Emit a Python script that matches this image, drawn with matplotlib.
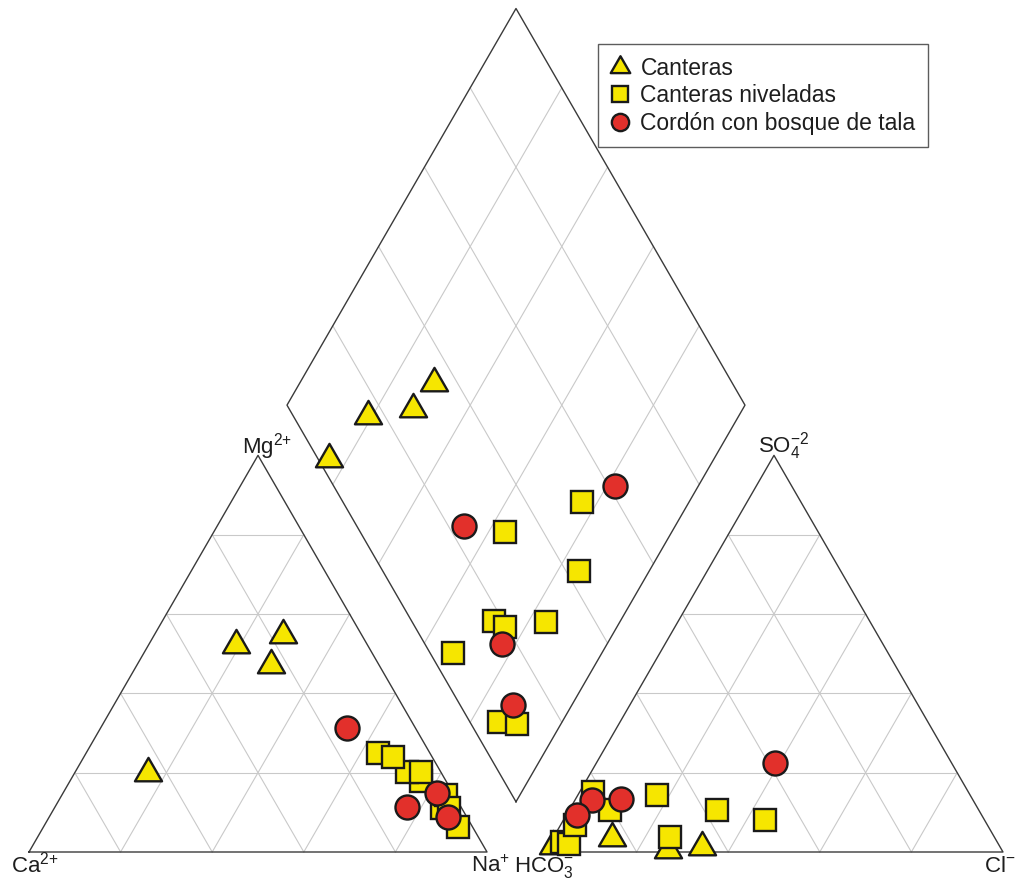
import numpy as np
import matplotlib
matplotlib.use("Agg")
import matplotlib.pyplot as plt
from matplotlib.path import Path

plt.rcParams['font.family'] = ['Liberation Sans', 'DejaVu Sans']
plt.rcParams['mathtext.fontset'] = 'custom'
plt.rcParams['mathtext.rm'] = 'Liberation Sans'
plt.rcParams['mathtext.it'] = 'Liberation Sans:italic'

# composiciones en % (cationes y aniones)
can_ca = [28.7, 17.2, 23.6, 64.1]
can_mg = [52.2, 54.7, 47.2, 19.9]
can_na = [19.1, 28.1, 29.2, 16.0]
can_hco3 = [83.6, 72.9, 65.1, 97.5]
can_so4 = [3.5, 0.5, 1.3, 1.5]
can_cl = [12.9, 26.6, 33.6, 1.0]

niv_ca = [5.5, 11.3, 4.3, 7.4, 4.3, 1.8, 8.5, 2.9, 3.2]
niv_mg = [17.9, 25.0, 11.1, 20.2, 20.2, 14.4, 24.0, 11.0, 6.3]
niv_na = [76.6, 63.7, 84.6, 72.4, 75.5, 83.8, 67.5, 86.1, 90.5]
niv_hco3 = [47.9, 68.3, 57.1, 82.0, 80.5, 70.8, 95.0, 93.7, 90.0]
niv_so4 = [8.1, 14.4, 10.6, 15.1, 10.6, 3.8, 2.5, 2.0, 6.8]
niv_cl = [44.0, 17.3, 32.3, 2.9, 8.9, 25.4, 2.5, 4.3, 3.2]

cor_ca = [3.4, 14.9, 11.8, 4.1]
cor_mg = [14.9, 31.3, 11.3, 8.8]
cor_na = [81.7, 53.8, 76.9, 87.1]
cor_hco3 = [38.6, 76.7, 83.2, 88.4]
cor_so4 = [22.4, 13.4, 13.1, 9.3]
cor_cl = [39.0, 9.9, 3.7, 2.3]

h = np.sqrt(3) / 2
g = 0.1266  # separacion entre triangulos
bx, by = 1 + g / 2, g * h  # vertice inferior del rombo


def cation_xy(ca, mg, na):
    mg = np.array(mg) / 100
    na = np.array(na) / 100
    return na + 0.5 * mg, h * mg


def anion_xy(hco3, so4, cl):
    so4 = np.array(so4) / 100
    cl = np.array(cl) / 100
    return 1 + g + cl + 0.5 * so4, h * so4


def diamond_xy(ca, mg, so4, cl):
    a = (np.array(ca) + np.array(mg)) / 100
    b = (np.array(so4) + np.array(cl)) / 100
    return bx + 0.5 * (b - a), by + h * (a + b)


fig = plt.figure(figsize=(10.17, 8.8), dpi=100)
ax = fig.add_axes([0, 0, 1, 1])
ax.set_xlim(-29 / 458, 988 / 458)
ax.set_ylim(-28 / 458, 852 / 458)
ax.set_aspect('equal')
ax.axis('off')

gc = '#c9c9c9'
oc = '#3a3a3a'
t = np.arange(1, 5) / 5

# rejilla triangulos
for x0 in [0, 1 + g]:
    for f in t:
        ax.plot([x0 + f * 0.5, x0 + 1 - f * 0.5], [f * h, f * h], color=gc, lw=0.8, zorder=1)
        ax.plot([x0 + f, x0 + 0.5 + f * 0.5], [0, (1 - f) * h], color=gc, lw=0.8, zorder=1)
        ax.plot([x0 + f, x0 + f * 0.5], [0, f * h], color=gc, lw=0.8, zorder=1)
    ax.plot([x0, x0 + 1, x0 + 0.5, x0], [0, 0, h, 0], color=oc, lw=1.0, zorder=2)

# rejilla rombo
u = np.array([-0.5, h])
v = np.array([0.5, h])
B = np.array([bx, by])
for f in t:
    p1 = B + f * u
    p2 = p1 + v
    ax.plot([p1[0], p2[0]], [p1[1], p2[1]], color=gc, lw=0.8, zorder=1)
    p1 = B + f * v
    p2 = p1 + u
    ax.plot([p1[0], p2[0]], [p1[1], p2[1]], color=gc, lw=0.8, zorder=1)
rb = np.array([B, B + u, B + u + v, B + v, B])
ax.plot(rb[:, 0], rb[:, 1], color=oc, lw=1.0, zorder=2)

yel = '#f6e600'
red = '#e2302b'
ec = '#1a1a1a'
tri = Path([(0, 1), (-0.866, -0.5), (0.866, -0.5), (0, 1)],
           [Path.MOVETO, Path.LINETO, Path.LINETO, Path.CLOSEPOLY])

groups = [
    ("Canteras", tri, yel, 22.5, can_ca, can_mg, can_na, can_hco3, can_so4, can_cl),
    ("Canteras niveladas", 's', yel, 16.3, niv_ca, niv_mg, niv_na, niv_hco3, niv_so4, niv_cl),
    ("Cordón con bosque de tala", 'o', red, 17.3, cor_ca, cor_mg, cor_na, cor_hco3, cor_so4, cor_cl),
]
handles = []
for i, (lab, mk, col, ms, ca, mg, na, hc, so, cl) in enumerate(groups):
    z = 3 + i
    x1, y1 = cation_xy(ca, mg, na)
    x2, y2 = anion_xy(hc, so, cl)
    x3, y3 = diamond_xy(ca, mg, so, cl)
    kw = dict(linestyle='None', marker=mk, ms=ms, mfc=col, mec=ec, mew=1.7, zorder=z)
    ln, = ax.plot(x1, y1, label=lab, **kw)
    ax.plot(x2, y2, **kw)
    ax.plot(x3, y3, **kw)
    handles.append(ln)

fs = 16
tc = '#1e1e1e'
yb = -20 / 458
ax.text(-18 / 458, yb, r"Ca$^{2{+}}$", fontsize=fs, color=tc, ha='left', va='baseline')
ax.text(442 / 458, yb, r"Na$^{{+}}$", fontsize=fs, color=tc, ha='left', va='baseline')
ax.text(485 / 458, yb, r"HCO$_{3}^{{-}}$", fontsize=fs, color=tc, ha='left', va='baseline')
ax.text(955 / 458, yb, r"Cl$^{{-}}$", fontsize=fs, color=tc, ha='left', va='baseline')
ax.text(213 / 458, h + 2 / 458, r"Mg$^{2{+}}$", fontsize=fs, color=tc, ha='left', va='baseline')
ax.text(1 + g + 213 / 458, h + 3 / 458, r"SO$_{4}^{{-}2}$", fontsize=fs, color=tc, ha='left', va='baseline')

leg = ax.legend(handles=handles, loc='upper left', bbox_to_anchor=(598 / 1017, 1 - 44 / 880),
                frameon=True, fancybox=False, edgecolor='#333333', fontsize=16.5,
                markerscale=0.72, handlelength=0.85, handletextpad=0.45, labelspacing=0.2,
                borderpad=0.55, borderaxespad=0)
leg.get_frame().set_linewidth(1.0)
for txt in leg.get_texts():
    txt.set_color(tc)

fig.savefig("out.png", dpi=100)
